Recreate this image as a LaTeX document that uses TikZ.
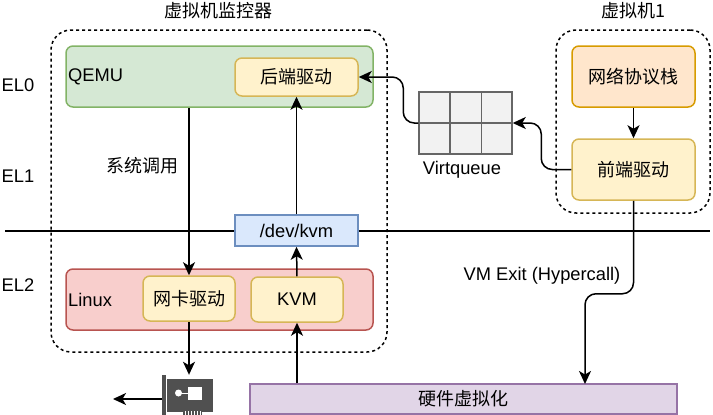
\documentclass[tikz,border=0pt]{standalone}
\usepackage{fontspec}
\setmainfont{Liberation Sans}
\newfontfamily\cjk{Noto Sans CJK SC}
\usetikzlibrary{arrows.meta,calc}
\definecolor{qemufill}{HTML}{D5E8D4}
\definecolor{qemuline}{HTML}{82B366}
\definecolor{drvfill}{HTML}{FFF2CC}
\definecolor{drvline}{HTML}{D6B656}
\definecolor{linuxfill}{HTML}{F8CECC}
\definecolor{linuxline}{HTML}{B85450}
\definecolor{kvmfill}{HTML}{DAE8FC}
\definecolor{kvmline}{HTML}{6C8EBF}
\definecolor{stackfill}{HTML}{FFE6CC}
\definecolor{stackline}{HTML}{D79B00}
\definecolor{hwfill}{HTML}{E1D5E7}
\definecolor{hwline}{HTML}{9673A6}
\definecolor{nicgray}{HTML}{505050}
\tikzset{
    label text/.style={inner sep=0pt,font=\fontsize{18.3}{20}\selectfont},
    cjk text/.style={inner sep=0pt,font=\fontsize{18}{20}\selectfont\cjk},
    box/.style={draw,line width=1.5pt,rounded corners=7pt,minimum width=#1,inner sep=0pt,align=center,font=\fontsize{18.3}{20}\selectfont},
    cjk box/.style={box=#1,font=\fontsize{18}{20}\selectfont\cjk},
    flow/.style={->,line width=1.5pt},
    guard/.style={draw,line width=1.5pt,dash pattern=on 3pt off 3pt,rounded corners=20pt}
}
\begin{document}
\begin{tikzpicture}[>={Stealth[length=13pt,width=12pt,inset=3.5pt]},x=1pt,y=-1pt]
    \useasboundingbox (0,0) rectangle (713,415);

    % Level line
    \coordinate (lineL) at (5,231);
    \coordinate (lineR) at (710,231);
    \draw[line width=1.5pt] (lineL) -- (lineR);

    % Dashed groups
    \node[guard,minimum width=336pt,minimum height=322pt] (monitor) at (219,191) {};
    \node[guard,minimum width=154pt,minimum height=183pt] (guest) at (633,121.5) {};
    \node[cjk text] (monitorT) at (218,11) {虚拟机监控器};
    \node[cjk text] (guestT) at (633,11) {虚拟机1};

    % Levels
    \node[label text] (el0) at (18,85) {EL0};
    \node[label text] (el1) at (18,176) {EL1};
    \node[label text] (el2) at (18,285) {EL2};

    % Hypervisor side
    \node[box=307pt,minimum height=61pt,fill=qemufill,draw=qemuline] (qemu) at (219.5,76.5) {};
    \node[label text,anchor=west] (qemuT) at (68,77) {QEMU};
    \node[cjk box=123pt,minimum height=38pt,fill=drvfill,draw=drvline] (back) at (296.5,77) {后端驱动};
    \node[box=123pt,minimum height=31pt,rounded corners=0pt,fill=kvmfill,draw=kvmline] (dev) at (296.5,230.5) {/dev/kvm};
    \node[box=307pt,minimum height=61pt,fill=linuxfill,draw=linuxline] (linux) at (219.5,299.5) {};
    \node[label text,anchor=west] (linuxT) at (68,300) {Linux};
    \node[cjk box=92pt,minimum height=45pt,fill=drvfill,draw=drvline] (nicdrv) at (189,298.5) {网卡驱动};
    \node[box=92pt,minimum height=45pt,fill=drvfill,draw=drvline] (kvm) at (297,299.5) {KVM};

    % Guest side
    \node[cjk box=123pt,minimum height=61pt,fill=stackfill,draw=stackline] (stack) at (633.5,76.5) {网络协议栈};
    \node[cjk box=123pt,minimum height=61pt,fill=drvfill,draw=drvline] (front) at (633.5,169.5) {前端驱动};

    % Queue
    \node[draw=black!60,fill=black!5,line width=1.5pt,minimum width=93pt,minimum height=62pt,inner sep=0pt] (vq) at (465.5,123) {};
    \foreach \i in {1,2}
        \draw[black!60,line width=1.5pt] ($(vq.north west)!\i/3!(vq.north east)$) -- ($(vq.south west)!\i/3!(vq.south east)$);
    \draw[black!60,line width=1.5pt] (vq.west) -- (vq.east);
    \node[label text] (vqT) at (462,170) {Virtqueue};

    % Hardware and card
    \node[draw=hwline,fill=hwfill,line width=1.5pt,minimum width=427pt,minimum height=30pt,inner sep=0pt,font=\fontsize{18}{20}\selectfont\cjk] (hw) at (463.5,399) {硬件虚拟化};
    \node[minimum width=51pt,minimum height=40pt,inner sep=0pt] (nic) at (187.5,395) {};
    \fill[nicgray] (162,375) rectangle (165.5,415);
    \fill[nicgray] (167,379) rectangle (213,412);
    \fill[nicgray] (183,412) rectangle (202,415);
    \fill[white] (188,387) rectangle (202,400);
    \fill[white] (178.5,393) circle (3.5pt);
    \draw[white,line width=1pt] (178.5,393) -- (188,393);
    \foreach \x in {185,188,191,194,197,200}
        \draw[white,line width=0.8pt] (\x,411) -- (\x,415);

    % Text on connectors
    \node[cjk text] (syscall) at (142,166) {系统调用};
    \node[label text] (exit) at (542,276) {VM Exit (Hypercall)};

    % Connectors
    \coordinate (out) at (113,399);
    \coordinate (hwin) at (585,384);
    \draw[flow] (nicdrv |- qemu.south) -- (nicdrv.north);
    \draw[flow] (nicdrv.south) -- (nicdrv |- nic.north);
    \draw[flow] (nic.west |- out) -- (out);
    \draw[flow] (kvm |- hw.north) -- (kvm.south);
    \draw[flow] (kvm.north) -- (dev.south);
    \draw[flow] (dev.north) -- (back.south);
    \draw[flow] (stack.south) -- (front.north);
    \draw[flow,rounded corners=11pt] (front.west) -- ++(-30,0) |- (vq.east);
    \draw[flow,rounded corners=11pt] (vq.west) -- ++(-15,0) |- (back.east);
    \draw[flow,rounded corners=11pt] (front.south) -- ++(0,93) -| (hwin);
\end{tikzpicture}
\end{document}
